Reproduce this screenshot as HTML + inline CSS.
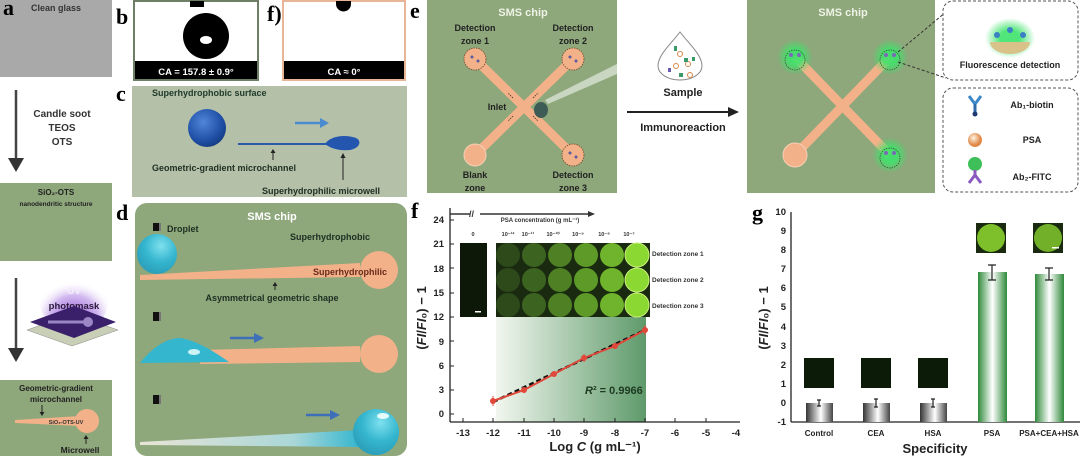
<!DOCTYPE html>
<html><head><meta charset="utf-8"><style>
html,body{margin:0;padding:0;background:#fff;width:1080px;height:456px;overflow:hidden}
svg{display:block;font-family:"Liberation Sans",Arial,sans-serif}
.b{font-weight:bold}
.L{font-family:"Liberation Serif",serif;font-weight:bold;font-size:22px}
</style></head><body>
<svg width="1080" height="456" viewBox="0 0 1080 456" xmlns="http://www.w3.org/2000/svg">
<defs>
<radialGradient id="blue" cx="0.4" cy="0.35" r="0.7"><stop offset="0" stop-color="#4f86d8"/><stop offset="0.7" stop-color="#1f4fa5"/><stop offset="1" stop-color="#143a80"/></radialGradient>
<radialGradient id="cyan" cx="0.6" cy="0.3" r="0.8"><stop offset="0" stop-color="#7fe0ee"/><stop offset="0.5" stop-color="#35b6cf"/><stop offset="1" stop-color="#2a98b4"/></radialGradient>
<linearGradient id="fade" x1="0" x2="1"><stop offset="0" stop-color="#e9e4d6"/><stop offset="0.7" stop-color="#a9d7d8"/><stop offset="1" stop-color="#35b6cf"/></linearGradient>
<linearGradient id="gshade" x1="0" x2="1"><stop offset="0" stop-color="#f2f7ef"/><stop offset="1" stop-color="#5f9a6b"/></linearGradient>
<linearGradient id="gray" x1="0" x2="1"><stop offset="0" stop-color="#333"/><stop offset="0.55" stop-color="#fff"/><stop offset="1" stop-color="#444"/></linearGradient>
<linearGradient id="grn" x1="0" x2="1"><stop offset="0" stop-color="#2f8a3a"/><stop offset="0.5" stop-color="#fff"/><stop offset="1" stop-color="#2f8a3a"/></linearGradient>
<radialGradient id="glow"><stop offset="0.4" stop-color="#3ee36a" stop-opacity="0.9"/><stop offset="1" stop-color="#3ee36a" stop-opacity="0"/></radialGradient>
<radialGradient id="uv" cx="0.5" cy="0.75" r="0.6"><stop offset="0" stop-color="#8a4fd0"/><stop offset="0.6" stop-color="#b48ae6" stop-opacity="0.6"/><stop offset="1" stop-color="#fff" stop-opacity="0"/></radialGradient>
<radialGradient id="psa" cx="0.4" cy="0.35"><stop offset="0" stop-color="#fff3e2"/><stop offset="1" stop-color="#e08a4a"/></radialGradient>
</defs>

<!-- ===== panel a ===== -->
<rect x="0" y="0" width="112" height="77" fill="#a9a9a9"/>
<text x="3" y="15" class="L" font-size="18">a</text>
<text x="56" y="11" class="b" font-size="9" fill="#333" text-anchor="middle">Clean glass</text>
<line x1="16" y1="90" x2="16" y2="160" stroke="#444" stroke-width="2.5"/>
<polygon points="8,158 24,158 16,172" fill="#333"/>
<g class="b" font-size="10" fill="#333" text-anchor="middle">
<text x="62" y="117">Candle soot</text><text x="62" y="131">TEOS</text><text x="62" y="145">OTS</text></g>
<rect x="0" y="183" width="112" height="78" fill="#8ea77b"/>
<text x="56" y="195" class="b" font-size="8" fill="#222" text-anchor="middle">SiO₂-OTS</text>
<text x="56" y="206" class="b" font-size="6.5" fill="#222" text-anchor="middle">nanodendritic structure</text>
<line x1="16" y1="278" x2="16" y2="350" stroke="#444" stroke-width="2.5"/>
<polygon points="8,348 24,348 16,362" fill="#333"/>
<ellipse cx="74" cy="302" rx="34" ry="30" fill="url(#uv)"/>
<text x="74" y="294" class="b" font-size="10" fill="#f4eefc" text-anchor="middle">UV</text>
<text x="74" y="309" class="b" font-size="9.5" fill="#2a1a3a" text-anchor="middle">photomask</text>
<polygon points="27,330 72,314 118,330 72,346" fill="#c9cfb7" stroke="#888" stroke-width="0.5"/>
<polygon points="30,322 74,306 116,322 74,338" fill="#3a1f6a"/>
<line x1="48" y1="322" x2="84" y2="322" stroke="#9c87c4" stroke-width="3"/>
<circle cx="88" cy="322" r="5" fill="#9c87c4"/>
<rect x="0" y="380" width="112" height="76" fill="#8ea77b"/>
<text x="56" y="391" class="b" font-size="8" fill="#222" text-anchor="middle">Geometric-gradient</text>
<text x="56" y="402" class="b" font-size="8" fill="#222" text-anchor="middle">microchannel</text>
<line x1="42" y1="405" x2="42" y2="413" stroke="#222"/><polygon points="39.5,412 44.5,412 42,416" fill="#222"/>
<polygon points="15,420 80,416 80,426 15,423" fill="#f2b189"/>
<circle cx="87" cy="421" r="12" fill="#f2b189"/>
<text x="66" y="424" class="b" font-size="5.5" fill="#333" text-anchor="middle">SiO₂-OTS-UV</text>
<line x1="86" y1="438" x2="86" y2="444" stroke="#222"/><polygon points="83.5,439 88.5,439 86,435" fill="#222"/>
<text x="80" y="453" class="b" font-size="8.5" fill="#222" text-anchor="middle">Microwell</text>

<!-- ===== panel b ===== -->
<text x="116" y="24" class="L">b</text>
<rect x="134" y="1" width="124" height="79" fill="#fff" stroke="#6d7f65" stroke-width="2"/>
<rect x="190" y="1" width="14" height="6" fill="#000"/>
<circle cx="206" cy="36" r="23" fill="#000"/>
<ellipse cx="206" cy="40" rx="6" ry="4" fill="#fff"/>
<rect x="135" y="61" width="122" height="18" fill="#000"/>
<text x="196" y="75" class="b" font-size="9.5" fill="#fff" text-anchor="middle">CA = 157.8 ± 0.9°</text>
<!-- f) -->
<text x="267" y="21" class="L" font-size="20">f)</text>
<rect x="283" y="1" width="122" height="79" fill="#fff" stroke="#e6b697" stroke-width="2"/>
<path d="M336,1 h15 v3 a7.5,7.5 0 0 1 -15,0z" fill="#000"/>
<rect x="284" y="61" width="120" height="18" fill="#000"/>
<text x="344" y="75" class="b" font-size="9.5" fill="#fff" text-anchor="middle">CA ≈ 0°</text>

<!-- ===== panel c ===== -->
<text x="116" y="101" class="L">c</text>
<rect x="132" y="86" width="275" height="111" fill="#b4c0a8"/>
<text x="152" y="96" class="b" font-size="9" fill="#1e3a2a">Superhydrophobic surface</text>
<circle cx="207" cy="128" r="19" fill="url(#blue)"/>
<line x1="238" y1="144" x2="330" y2="144" stroke="#2b5aa8" stroke-width="2"/>
<path d="M325,144 C330,136 345,134 356,138 C362,141 360,148 350,150 C338,151 330,148 325,144z" fill="#2456b0"/>
<line x1="295" y1="123" x2="322" y2="123" stroke="#4a8ad0" stroke-width="2.5"/>
<polygon points="320,118 329,123 320,128" fill="#4a8ad0"/>
<line x1="273" y1="152" x2="273" y2="160" stroke="#222"/><polygon points="270.5,153 275.5,153 273,149" fill="#222"/>
<text x="152" y="171" class="b" font-size="9" fill="#1e2e22">Geometric-gradient microchannel</text>
<line x1="343" y1="156" x2="343" y2="180" stroke="#222"/><polygon points="340.5,158 345.5,158 343,153" fill="#222"/>
<text x="262" y="194" class="b" font-size="9" fill="#1e2e22">Superhydrophilic microwell</text>

<!-- ===== panel d ===== -->
<text x="116" y="220" class="L">d</text>
<rect x="135" y="203" width="272" height="253" rx="12" fill="#8ea77b"/>
<text x="272" y="220" class="b" font-size="11" fill="#fff" text-anchor="middle">SMS chip</text>
<rect x="153" y="223" width="6" height="8" fill="#111"/><rect x="159" y="223" width="2" height="8" fill="#777"/>
<text x="167" y="232" class="b" font-size="9" fill="#1e2e22">Droplet</text>
<text x="290" y="240" class="b" font-size="9" fill="#1e2e22">Superhydrophobic</text>
<polygon points="140,275 360,263 360,277 140,280" fill="#f2b189"/>
<circle cx="379" cy="270" r="19" fill="#f2b189"/>
<circle cx="157" cy="254" r="20" fill="url(#cyan)"/>
<text x="387" y="275" class="b" font-size="9" fill="#6a2a1a" text-anchor="end">Superhydrophilic</text>
<line x1="275" y1="284" x2="275" y2="290" stroke="#222"/><polygon points="272.5,286 277.5,286 275,282" fill="#222"/>
<text x="272" y="301" class="b" font-size="9" fill="#1e2e22" text-anchor="middle">Asymmetrical geometric shape</text>
<rect x="153" y="312" width="6" height="9" fill="#111"/><rect x="159" y="312" width="2" height="9" fill="#777"/>
<polygon points="200,350 360,346 360,362 200,364" fill="#f2b189"/>
<circle cx="379" cy="354" r="19" fill="#f2b189"/>
<path d="M140,363 C150,350 165,338 180,338 C195,340 212,350 229,362z" fill="#35b6cf"/>
<ellipse cx="194" cy="352" rx="6" ry="3" fill="#cdf3f7"/>
<line x1="230" y1="338" x2="256" y2="338" stroke="#3d70b8" stroke-width="2.5"/>
<polygon points="254,333 264,338 254,343" fill="#3d70b8"/>
<rect x="153" y="395" width="6" height="9" fill="#111"/><rect x="159" y="395" width="2" height="9" fill="#777"/>
<polygon points="140,442 360,430 360,447 140,445" fill="url(#fade)"/>
<circle cx="376" cy="432" r="23" fill="url(#cyan)"/>
<ellipse cx="383" cy="416" rx="6" ry="3" fill="#e4fbfd"/>
<line x1="306" y1="415" x2="332" y2="415" stroke="#3d70b8" stroke-width="2.5"/>
<polygon points="330,410 340,415 330,420" fill="#3d70b8"/>

<!-- ===== panel e ===== -->
<text x="410" y="18" class="L">e</text>
<rect x="427" y="0" width="190" height="193" fill="#8ea77b"/>
<text x="523" y="16" class="b" font-size="11" fill="#eef3e6" text-anchor="middle">SMS chip</text>
<line x1="475" y1="59" x2="573" y2="155" stroke="#f2b189" stroke-width="9"/>
<line x1="573" y1="59" x2="475" y2="155" stroke="#f2b189" stroke-width="9"/>
<g fill="#f2b189" stroke="#7a4a2a" stroke-width="0.8" stroke-dasharray="1.5,1">
<circle cx="475" cy="59" r="11"/><circle cx="573" cy="59" r="11"/><circle cx="573" cy="155" r="11"/></g>
<circle cx="475" cy="155" r="11" fill="#f2b189" stroke="#f7d0b5"/>
<g fill="#5a5aa0"><circle cx="472" cy="57" r="1.5"/><circle cx="478" cy="61" r="1.5"/><circle cx="570" cy="57" r="1.5"/><circle cx="576" cy="61" r="1.5"/><circle cx="570" cy="153" r="1.5"/><circle cx="576" cy="157" r="1.5"/></g>
<polygon points="545,100 617,64 617,74 548,104" fill="#d8e4d4" opacity="0.8"/>
<ellipse cx="541" cy="110" rx="7" ry="8" fill="#3d5c55"/>
<g class="b" font-size="9" fill="#222" text-anchor="middle">
<text x="475" y="31">Detection</text><text x="475" y="44">zone 1</text>
<text x="573" y="31">Detection</text><text x="573" y="44">zone 2</text>
<text x="475" y="178">Blank</text><text x="475" y="191">zone</text>
<text x="573" y="178">Detection</text><text x="573" y="191">zone 3</text>
<text x="497" y="110">Inlet</text></g>
<g stroke="#4a3020" stroke-width="0.8" stroke-dasharray="1.5,1"><line x1="513" y1="98" x2="508" y2="93"/><line x1="533" y1="98" x2="538" y2="93"/><line x1="513" y1="116" x2="508" y2="121"/><line x1="533" y1="116" x2="538" y2="121"/></g>
<!-- sample drop -->
<path d="M680,32 C690,45 702,55 702,66 a22,14 0 0 1 -44,0 C658,55 670,45 680,32z" fill="#fff" stroke="#888"/>
<g fill="none" stroke="#d88a4a" stroke-width="1"><circle cx="680" cy="54" r="2.5"/><circle cx="676" cy="66" r="2.5"/><circle cx="688" cy="64" r="2.5"/><circle cx="690" cy="75" r="2.5"/></g>
<g fill="#3a9a6a"><rect x="674" y="46" width="3" height="5"/><rect x="684" y="58" width="4" height="4"/><rect x="668" y="68" width="3" height="4" fill="#6a5ab0"/><rect x="679" y="73" width="4" height="4"/><rect x="692" y="57" width="3" height="4"/></g>
<text x="683" y="96" class="b" font-size="11" fill="#222" text-anchor="middle">Sample</text>
<line x1="627" y1="112" x2="730" y2="112" stroke="#222" stroke-width="2"/>
<polygon points="728,107 739,112 728,117" fill="#222"/>
<text x="683" y="131" class="b" font-size="11" fill="#222" text-anchor="middle">Immunoreaction</text>
<!-- chip 2 -->
<rect x="747" y="0" width="188" height="193" fill="#8ea77b"/>
<text x="843" y="16" class="b" font-size="11" fill="#eef3e6" text-anchor="middle">SMS chip</text>
<line x1="795" y1="57" x2="890" y2="155" stroke="#f2b189" stroke-width="9"/>
<line x1="890" y1="57" x2="795" y2="155" stroke="#f2b189" stroke-width="9"/>
<circle cx="795" cy="155" r="12" fill="#f2b189" stroke="#f7d0b5"/>
<circle cx="795" cy="57" r="18" fill="url(#glow)"/><circle cx="890" cy="57" r="18" fill="url(#glow)"/><circle cx="890" cy="155" r="18" fill="url(#glow)"/>
<g fill="none" stroke="#2a4a2a" stroke-width="0.7" stroke-dasharray="1.5,1"><circle cx="795" cy="60" r="10"/><circle cx="890" cy="60" r="10"/><circle cx="890" cy="158" r="10"/></g>
<g fill="#7a6ab8"><circle cx="791" cy="55" r="2"/><circle cx="799" cy="55" r="2"/><circle cx="886" cy="55" r="2"/><circle cx="894" cy="55" r="2"/><circle cx="886" cy="153" r="2"/><circle cx="894" cy="153" r="2"/></g>
<line x1="898" y1="52" x2="946" y2="12" stroke="#333" stroke-dasharray="3,2"/>
<line x1="898" y1="62" x2="946" y2="78" stroke="#333" stroke-dasharray="3,2"/>
<rect x="943" y="1" width="135" height="79" rx="10" fill="#fff" stroke="#555" stroke-dasharray="3,2"/>
<ellipse cx="1010" cy="38" rx="25" ry="20" fill="url(#glow)"/>
<path d="M990,42 a20,12 0 0 0 40,0z" fill="#d8c28a"/>
<g fill="#3b7fc4"><circle cx="997" cy="35" r="3"/><circle cx="1010" cy="30" r="3"/><circle cx="1023" cy="35" r="3"/></g>
<text x="1010" y="68" class="b" font-size="9" fill="#222" text-anchor="middle">Fluorescence detection</text>
<rect x="943" y="88" width="135" height="104" rx="10" fill="#fff" stroke="#555" stroke-dasharray="3,2"/>
<path d="M969,96 l6,8 l6,-8" fill="none" stroke="#3b86c9" stroke-width="3"/>
<rect x="973.5" y="104" width="3" height="9" fill="#2c6aa8"/><circle cx="975" cy="114" r="2.5" fill="#1e3a70"/>
<circle cx="975" cy="140" r="7" fill="url(#psa)"/>
<circle cx="975" cy="164" r="7" fill="#3fbf5a"/>
<path d="M969,183 l6,-8 l6,8" fill="none" stroke="#8a5ac0" stroke-width="3"/><rect x="973.5" y="170" width="3" height="6" fill="#8a5ac0"/>
<g class="b" font-size="9" fill="#222" text-anchor="middle">
<text x="1032" y="108">Ab₁-biotin</text><text x="1032" y="143">PSA</text><text x="1032" y="180">Ab₂-FITC</text></g>

<!-- ===== panel f chart ===== -->
<text x="411" y="218" class="L">f</text>
<rect x="496" y="317" width="150" height="105" fill="url(#gshade)"/>
<line x1="450" y1="208" x2="450" y2="422" stroke="#222" stroke-width="1.3"/>
<line x1="450" y1="422" x2="740" y2="422" stroke="#222" stroke-width="1.3"/>
<g class="b" font-size="9.5" fill="#222" text-anchor="end">
<text x="444" y="223">24</text><text x="444" y="247">21</text><text x="444" y="272">18</text><text x="444" y="296">15</text><text x="444" y="320">12</text><text x="444" y="345">9</text><text x="444" y="369">6</text><text x="444" y="393">3</text><text x="444" y="417">0</text></g>
<g stroke="#222"><line x1="450" y1="220" x2="454" y2="220"/><line x1="450" y1="244" x2="454" y2="244"/><line x1="450" y1="268" x2="454" y2="268"/><line x1="450" y1="293" x2="454" y2="293"/><line x1="450" y1="317" x2="454" y2="317"/><line x1="450" y1="341" x2="454" y2="341"/><line x1="450" y1="366" x2="454" y2="366"/><line x1="450" y1="390" x2="454" y2="390"/><line x1="450" y1="414" x2="454" y2="414"/></g>
<g class="b" font-size="9.5" fill="#222" text-anchor="middle">
<text x="463" y="436">-13</text><text x="493" y="436">-12</text><text x="524" y="436">-11</text><text x="554" y="436">-10</text><text x="584" y="436">-9</text><text x="615" y="436">-8</text><text x="645" y="436">-7</text><text x="675" y="436">-6</text><text x="706" y="436">-5</text><text x="736" y="436">-4</text></g>
<g stroke="#222"><line x1="463" y1="422" x2="463" y2="418"/><line x1="493" y1="422" x2="493" y2="418"/><line x1="524" y1="422" x2="524" y2="418"/><line x1="554" y1="422" x2="554" y2="418"/><line x1="584" y1="422" x2="584" y2="418"/><line x1="615" y1="422" x2="615" y2="418"/><line x1="645" y1="422" x2="645" y2="418"/><line x1="675" y1="422" x2="675" y2="418"/><line x1="706" y1="422" x2="706" y2="418"/></g>
<text x="595" y="451" class="b" font-size="13" fill="#222" text-anchor="middle">Log <tspan font-style="italic">C</tspan> (g mL⁻¹)</text>
<text transform="translate(426,318) rotate(-90)" class="b" font-size="13" fill="#222" text-anchor="middle">(<tspan font-style="italic">FI</tspan>/<tspan font-style="italic">FI</tspan>₀) − 1</text>
<line x1="493" y1="402" x2="645" y2="330" stroke="#111" stroke-width="2.5" stroke-dasharray="5,3"/>
<polyline points="493,401 524,390 554,374 584,358 615,346 645,330" fill="none" stroke="#e0483a" stroke-width="2"/>
<g fill="#e0483a"><circle cx="493" cy="401" r="3"/><circle cx="524" cy="390" r="3"/><circle cx="554" cy="374" r="3"/><circle cx="584" cy="358" r="3"/><circle cx="615" cy="346" r="3"/><circle cx="645" cy="330" r="3"/></g>
<g stroke="#e0483a"><line x1="493" y1="396" x2="493" y2="406"/><line x1="645" y1="325" x2="645" y2="335"/><line x1="584" y1="354" x2="584" y2="362"/></g>
<text x="585" y="394" font-size="11" class="b" fill="#1e3a22"><tspan font-style="italic">R</tspan>² = 0.9966</text>
<line x1="450" y1="214" x2="470" y2="214" stroke="#333" stroke-width="1.5"/>
<text x="469" y="217" font-size="9" class="b" fill="#333">//</text>
<line x1="480" y1="214" x2="590" y2="214" stroke="#333" stroke-width="1.5"/>
<polygon points="588,211 595,214 588,217" fill="#333"/>
<text x="540" y="222" font-size="6" class="b" fill="#333" text-anchor="middle">PSA concentration (g mL⁻¹)</text>
<g font-size="5.5" class="b" fill="#333" text-anchor="middle">
<text x="473" y="236">0</text><text x="508" y="236">10⁻¹²</text><text x="528" y="236">10⁻¹¹</text><text x="553" y="236">10⁻¹⁰</text><text x="578" y="236">10⁻⁹</text><text x="604" y="236">10⁻⁸</text><text x="629" y="236">10⁻⁷</text></g>
<rect x="460" y="243" width="27" height="74" fill="#0d1808"/>
<rect x="475" y="311" width="6" height="1.5" fill="#fff"/>
<rect x="496" y="243" width="154" height="74" fill="#1a2a10"/>
<g fill="#2e4a1a"><circle cx="508" cy="255" r="12"/><circle cx="508" cy="280" r="12"/><circle cx="508" cy="305" r="12"/></g>
<g fill="#3d6320"><circle cx="534" cy="255" r="12"/><circle cx="534" cy="280" r="12"/><circle cx="534" cy="305" r="12"/></g>
<g fill="#4f8024"><circle cx="560" cy="255" r="12"/><circle cx="560" cy="280" r="12"/><circle cx="560" cy="305" r="12"/></g>
<g fill="#5e9a28"><circle cx="586" cy="255" r="12"/><circle cx="586" cy="280" r="12"/><circle cx="586" cy="305" r="12"/></g>
<g fill="#6fb42c"><circle cx="612" cy="255" r="12"/><circle cx="612" cy="280" r="12"/><circle cx="612" cy="305" r="12"/></g>
<g fill="#8cd832" stroke="#c8f07a"><circle cx="637" cy="255" r="12"/><circle cx="637" cy="280" r="12"/><circle cx="637" cy="305" r="12"/></g>
<g font-size="6.5" class="b" fill="#333">
<text x="652" y="256">Detection zone 1</text><text x="652" y="282">Detection zone 2</text><text x="652" y="308">Detection zone 3</text></g>

<!-- ===== panel g ===== -->
<text x="752" y="220" class="L">g</text>
<line x1="791" y1="212" x2="791" y2="422" stroke="#222" stroke-width="1.3"/>
<line x1="791" y1="422" x2="1080" y2="422" stroke="#222" stroke-width="1.3"/>
<g class="b" font-size="9.5" fill="#222" text-anchor="end">
<text x="786" y="215">10</text><text x="786" y="234">9</text><text x="786" y="253">8</text><text x="786" y="272">7</text><text x="786" y="291">6</text><text x="786" y="310">5</text><text x="786" y="330">4</text><text x="786" y="349">3</text><text x="786" y="368">2</text><text x="786" y="387">1</text><text x="786" y="406">0</text><text x="786" y="425">-1</text></g>
<text transform="translate(768,318) rotate(-90)" class="b" font-size="13" fill="#222" text-anchor="middle">(<tspan font-style="italic">FI</tspan>/<tspan font-style="italic">FI</tspan>₀) − 1</text>
<rect x="806" y="403" width="27" height="19" fill="url(#gray)"/>
<rect x="863" y="403" width="27" height="19" fill="url(#gray)"/>
<rect x="920" y="403" width="27" height="19" fill="url(#gray)"/>
<rect x="978" y="272" width="29" height="150" fill="url(#grn)"/>
<rect x="1035" y="274" width="29" height="148" fill="url(#grn)"/>
<g stroke="#222" stroke-width="1.2" fill="none">
<path d="M817,400h4M819,400v6M817,406h4"/><path d="M874,399h4M876,399v8M874,407h4"/><path d="M931,399h4M933,399v8M931,407h4"/>
<path d="M988,265h8M992,265v15M988,280h8"/><path d="M1045,268h8M1049,268v12M1045,280h8"/></g>
<g fill="#0c1a08"><rect x="804" y="358" width="30" height="30"/><rect x="861" y="358" width="30" height="30"/><rect x="918" y="358" width="30" height="30"/></g>
<rect x="976" y="223" width="30" height="30" fill="#1a2a10"/><circle cx="991" cy="238" r="14" fill="#7ec02c"/>
<rect x="1033" y="223" width="30" height="30" fill="#1a2a10"/><circle cx="1048" cy="238" r="14" fill="#72b02a"/>
<rect x="1052" y="247" width="7" height="1.5" fill="#fff"/>
<g class="b" font-size="8" fill="#222" text-anchor="middle">
<text x="819" y="436">Control</text><text x="876" y="436">CEA</text><text x="933" y="436">HSA</text><text x="992" y="436">PSA</text><text x="1049" y="436">PSA+CEA+HSA</text></g>
<text x="935" y="453" class="b" font-size="13" fill="#222" text-anchor="middle">Specificity</text>
</svg>
</body></html>
